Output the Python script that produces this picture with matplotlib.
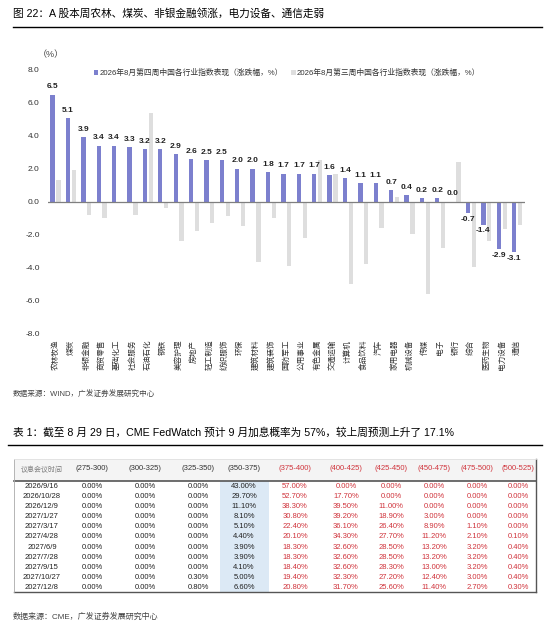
import numpy as np
import matplotlib.pyplot as plt

plt.rcParams['font.family'] = ['Liberation Sans', 'Noto Sans CJK SC', 'DejaVu Sans']

# bar chart data
industries = ['农林牧渔', '煤炭', '非银金融', '商贸零售', '基础化工', '社会服务', '石油石化',
              '钢铁', '美容护理', '房地产', '轻工制造', '纺织服饰', '环保', '建筑材料',
              '建筑装饰', '国防军工', '公用事业', '有色金属', '交通运输', '计算机', '食品饮料',
              '汽车', '家用电器', '机械设备', '传媒', '电子', '银行', '综合', '医药生物',
              '电力设备', '通信']
week4 = [6.5, 5.1, 3.9, 3.4, 3.4, 3.3, 3.2, 3.2, 2.9, 2.6, 2.5, 2.5, 2.0, 2.0, 1.8,
         1.7, 1.7, 1.7, 1.6, 1.4, 1.1, 1.1, 0.7, 0.4, 0.2, 0.2, 0.0, -0.7, -1.4, -2.9, -3.1]
week3 = [1.3, 1.9, -0.8, -1.0, -0.1, -0.8, 5.4, -0.4, -2.4, -1.8, -1.3, -0.9, -1.5, -3.7,
         -1.0, -3.9, -2.2, 2.5, 1.7, -5.0, -3.8, -1.6, 0.3, -2.0, -5.6, -2.8, 2.4, -4.0,
         -2.4, -1.7, -1.4]
label4 = '2026年8月第四周中国各行业指数表现（涨跌幅，%）'
label3 = '2026年8月第三周中国各行业指数表现（涨跌幅，%）'

# table data
meetings = ['2026/9/16', '2026/10/28', '2026/12/9', '2027/1/27', '2027/3/17', '2027/4/28',
            '2027/6/9', '2027/7/28', '2027/9/15', '2027/10/27', '2027/12/8']
rate_ranges = ['(275-300)', '(300-325)', '(325-350)', '(350-375)', '(375-400)',
               '(400-425)', '(425-450)', '(450-475)', '(475-500)', '(500-525)']
p275 = [0.00] * 11
p300 = [0.00] * 11
p325 = [0.00, 0.00, 0.00, 0.00, 0.00, 0.00, 0.00, 0.00, 0.00, 0.30, 0.80]
p350 = [43.00, 29.70, 11.10, 8.10, 5.10, 4.40, 3.90, 3.90, 4.10, 5.00, 6.60]
p375 = [57.00, 52.70, 38.30, 30.80, 22.40, 20.10, 18.30, 18.30, 18.40, 19.40, 20.80]
p400 = [0.00, 17.70, 39.50, 39.20, 36.10, 34.30, 32.60, 32.60, 32.60, 32.30, 31.70]
p425 = [0.00, 0.00, 11.00, 18.90, 26.40, 27.70, 28.50, 28.50, 28.30, 27.20, 25.60]
p450 = [0.00, 0.00, 0.00, 3.00, 8.90, 11.20, 13.20, 13.20, 13.00, 12.40, 11.40]
p475 = [0.00, 0.00, 0.00, 0.00, 1.10, 2.10, 3.20, 3.20, 3.20, 3.00, 2.70]
p500 = [0.00, 0.00, 0.00, 0.00, 0.00, 0.10, 0.40, 0.40, 0.40, 0.40, 0.30]
prob_cols = [p275, p300, p325, p350, p375, p400, p425, p450, p475, p500]

W, H = 555, 633
fig = plt.figure(figsize=(W / 100, H / 100), dpi=100)


def fx(px):
    return px / W


def fy(py):
    return 1 - py / H


blue = '#7C80CE'
grey = '#DEDEDE'
red = '#D0343C'

fig.text(fx(13), fy(13), '图 22：A 股本周农林、煤炭、非银金融领涨，电力设备、通信走弱',
         fontsize=7.7, va='center', ha='left', color='black')
fig.add_artist(plt.Line2D([fx(13), fx(542)], [fy(27), fy(27)], color='black', lw=1))

# chart
ax = fig.add_axes([fx(48), fy(333), fx(525) - fx(48), fy(70) - fy(333)])
x = np.arange(len(industries))
bw = 0.28
b4 = ax.bar(x - 0.2, week4, bw, color=blue, label=label4, zorder=2)
b3 = ax.bar(x + 0.18, week3, bw, color=grey, label=label3, zorder=2)
for xi, v in zip(x, week4):
    if v >= 0:
        ax.annotate(f'{v:.1f}', (xi - 0.2, v), xytext=(0, 3), textcoords='offset points',
                    ha='center', va='bottom', fontsize=6, fontweight='bold', color='#222222')
    else:
        ax.annotate(f'{v:.1f}', (xi - 0.2, v), xytext=(0, -2), textcoords='offset points',
                    ha='center', va='top', fontsize=6, fontweight='bold', color='#222222')
ax.axhline(0, color='#7f7f7f', lw=0.9, zorder=3)
ax.set_xlim(-0.5, len(industries) - 0.5)
ax.set_ylim(-8, 8)
ax.set_yticks(np.arange(-8, 8.1, 2))
ax.set_yticklabels([f'{t:.1f}' for t in np.arange(-8, 8.1, 2)], fontsize=6, color='#333333')
ax.set_xticks(x)
ax.set_xticklabels(industries, rotation=90, fontsize=5.5, color='#333333', va='top')
ax.tick_params(length=0)
ax.tick_params(axis='y', pad=6)
ax.tick_params(axis='x', pad=5)
for s in ax.spines.values():
    s.set_visible(False)
fig.text(fx(38), fy(55), '（%）', fontsize=6.5, color='#444444', va='center', ha='left')
fig.legend(handles=[b4, b3], loc='center', bbox_to_anchor=(fx(287), fy(73)), ncol=2,
           frameon=False, fontsize=5.6, handlelength=0.6, handleheight=0.6,
           handletextpad=0.2, columnspacing=1.0, labelcolor='#333333')

fig.text(fx(13), fy(395), '数据来源：WIND，广发证券发展研究中心', fontsize=5.5,
         color='#444444', va='center', ha='left')

# table
fig.text(fx(13), fy(432), '表 1：截至 8 月 29 日，CME FedWatch 预计 9 月加息概率为 57%，较上周预测上升了 17.1%',
         fontsize=7.7, va='center', ha='left', color='black')
fig.add_artist(plt.Line2D([fx(8), fx(542)], [fy(445), fy(445)], color='black', lw=1))

tx = fig.add_axes([0, 0, 1, 1])
tx.set_xlim(0, W)
tx.set_ylim(H, 0)
tx.axis('off')
col_x = [42, 92, 145, 198, 244, 295, 346, 391, 434, 477, 518]
left, right = 14, 536
top, head_line, bottom = 459, 481, 592
row_y0, row_dy = 486.7, 10.06
tx.add_patch(plt.Rectangle((left, top), right - left, head_line - top, color='#F4F4F4', lw=0))
tx.add_patch(plt.Rectangle((220, head_line), 49, bottom - head_line, color='#DCE9F5', lw=0))
tx.plot([left, right], [head_line, head_line], color='#555555', lw=1.2)
tx.plot([left, right], [bottom, bottom], color='#555555', lw=1)
tx.plot([left, left], [top, bottom], color='#AAAAAA', lw=0.6)
tx.plot([right, right], [top, bottom], color='#555555', lw=1)
tx.plot([left, right], [top, top], color='#E0E0E0', lw=0.6)

tx.text(col_x[0], 470, '议息会议时间', fontsize=5, color='#777777', ha='center', va='center')
for j, r in enumerate(rate_ranges):
    c = red if j >= 4 else '#333333'
    tx.text(col_x[j + 1], 469, r, fontsize=5.5, color=c, ha='center', va='center')
for i, d in enumerate(meetings):
    yy = row_y0 + i * row_dy
    tx.text(col_x[0], yy, d, fontsize=5.5, color='#222222', ha='center', va='center')
    for j, col in enumerate(prob_cols):
        c = red if j >= 4 else '#222222'
        tx.text(col_x[j + 1], yy, f'{col[i]:.2f}%', fontsize=5.5, color=c,
                ha='center', va='center')

fig.text(fx(13), fy(617), '数据来源：CME，广发证券发展研究中心', fontsize=5.8,
         color='#444444', va='center', ha='left')

fig.savefig('out.png', dpi=100)
